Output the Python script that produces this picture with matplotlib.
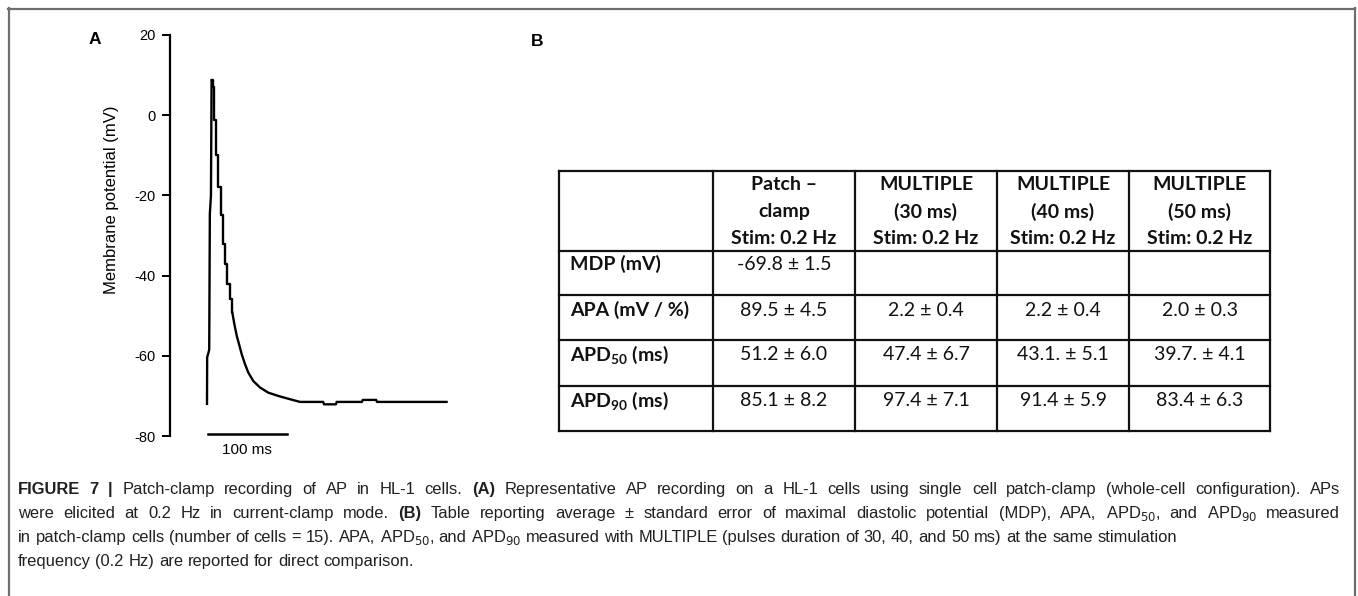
import matplotlib
matplotlib.use("Agg")
import matplotlib.pyplot as plt
from matplotlib.lines import Line2D

# ---------------- data ----------------
upstroke_time_ms = [0.0, 0.2, 2.8, 3.6, 5.0, 5.8]
upstroke_mv = [-72.0, -60.4, -58.5, -24.6, -20.0, 8.7]

# early repolarisation (sampled, drawn as steps)
decay_time_ms = [5.8, 7.0, 8.5, 11.5, 14.4, 17.8, 20.6, 22.8, 25.7, 29.1, 32.0]
decay_mv = [8.7, 7.0, -1.2, -10.0, -18.0, -25.0, -32.0, -37.1, -42.1, -45.8, -49.2]

# late repolarisation and resting potential
tail_time_ms = [32.0, 34.6, 37.6, 40.5, 43.9, 48.1, 52.3, 58.6, 67.0, 77.6, 90.0, 100.8,
                117.7, 147.0, 148.0, 163.0, 164.0, 196.0, 197.0, 214.0, 215.0, 303.0]
tail_mv = [-49.2, -52.1, -55.0, -57.1, -59.6, -62.1, -64.2, -66.3, -67.9, -69.2, -70.0, -70.6,
           -71.5, -71.5, -72.1, -72.1, -71.5, -71.5, -71.0, -71.0, -71.5, -71.5]

y_ticks = [-80, -60, -40, -20, 0, 20]
scale_bar_ms = 100

table_header = [["Patch \u2013", "clamp", "Stim: 0.2 Hz"],
                ["MULTIPLE", "(30 ms)", "Stim: 0.2 Hz"],
                ["MULTIPLE", "(40 ms)", "Stim: 0.2 Hz"],
                ["MULTIPLE", "(50 ms)", "Stim: 0.2 Hz"]]
row_labels = ["MDP (mV)", "APA (mV / %)", r"APD$_{\mathbf{50}}$ (ms)", r"APD$_{\mathbf{90}}$ (ms)"]
table_values = [["-69.8 \u00b1 1.5", "", "", ""],
                ["89.5 \u00b1 4.5", "2.2 \u00b1 0.4", "2.2 \u00b1 0.4", "2.0 \u00b1 0.3"],
                ["51.2 \u00b1 6.0", "47.4 \u00b1 6.7", "43.1. \u00b1 5.1", "39.7. \u00b1 4.1"],
                ["85.1 \u00b1 8.2", "97.4 \u00b1 7.1", "91.4 \u00b1 5.9", "83.4 \u00b1 6.3"]]

caption_lines = [
    [("FIGURE 7 |", True), ("Patch-clamp recording of AP in HL-1 cells.", False), ("(A)", True),
     ("Representative AP recording on a HL-1 cells using single cell patch-clamp (whole-cell configuration). APs", False)],
    [("were elicited at 0.2 Hz in current-clamp mode.", False), ("(B)", True),
     ("Table reporting average \u00b1 standard error of maximal diastolic potential (MDP), APA, APD$_{50}$, and APD$_{90}$ measured", False)],
    [("in patch-clamp cells (number of cells = 15). APA, APD$_{50}$, and APD$_{90}$ measured with MULTIPLE (pulses duration of 30, 40, and 50 ms) at the same stimulation", False)],
    [("frequency (0.2 Hz) are reported for direct comparison.", False)],
]
justify_line = [True, True, False, False]

# ---------------- style ----------------
W, H, DPI = 1358, 596, 100
plt.rcParams["mathtext.fontset"] = "custom"
plt.rcParams["mathtext.rm"] = "Liberation Sans Narrow"
plt.rcParams["mathtext.bf"] = "Lato:bold"
ARIAL = ["Liberation Sans", "DejaVu Sans"]
NARROW = ["Liberation Sans Narrow", "Liberation Sans", "DejaVu Sans"]
CAL = ["Lato", "DejaVu Sans"]
CAPC = "#231f20"
TBL = 14

fig = plt.figure(figsize=(W / DPI, H / DPI), dpi=DPI)
fig.patch.set_facecolor("white")


def fx(px):
    return px / W


def fy(py):
    return 1 - py / H


# outer frame
for xs, ys in [((8, 1355), (8.5, 8.5)), ((8.5, 8.5), (8, 600)), ((1355, 1355), (8, 600))]:
    fig.add_artist(Line2D([fx(v) for v in xs], [fy(v) for v in ys], color="#6e6e6e", lw=1.6,
                          transform=fig.transFigure))

# ---------------- panel A ----------------
axA = fig.add_axes([fx(170), fy(436), fx(460) - fx(170), fy(35) - fy(436)])
axA.plot(upstroke_time_ms, upstroke_mv, color="black", lw=1.7, solid_joinstyle="miter")
axA.plot(decay_time_ms, decay_mv, color="black", lw=1.7, drawstyle="steps-post")
axA.plot(tail_time_ms, tail_mv, color="black", lw=1.7)
axA.set_xlim(-46.8, 320)
axA.set_ylim(-80, 20)
for s in ["top", "right", "bottom"]:
    axA.spines[s].set_visible(False)
axA.spines["left"].set_linewidth(1.6)
axA.set_xticks([])
axA.set_yticks(y_ticks)
axA.set_yticklabels([str(v) for v in y_ticks], fontfamily=ARIAL, fontsize=10.5)
axA.tick_params(axis="y", direction="out", length=6, width=1.4, pad=4)
axA.set_ylabel("Membrane potential (mV)", fontfamily=ARIAL, fontsize=12)
axA.yaxis.set_label_coords(-0.176, 0.589)
axA.plot([1, 1 + scale_bar_ms], [-79.4, -79.4], color="black", lw=1.8, clip_on=False)
axA.text(1 + scale_bar_ms / 2, -83.6, f"{scale_bar_ms} ms", ha="center", va="center",
         fontfamily=ARIAL, fontsize=11)
fig.text(fx(95), fy(40), "A", fontfamily=ARIAL, fontweight="bold", fontsize=12.5,
         ha="center", va="center")
fig.text(fx(537), fy(41), "B", fontfamily=ARIAL, fontweight="bold", fontsize=12.5,
         ha="center", va="center")

# ---------------- panel B: table ----------------
col_edges = [559, 713, 855, 997, 1129, 1270]
row_edges = [171, 251, 295, 340, 386, 431]
axT = fig.add_axes([fx(559), fy(431), fx(1270) - fx(559), fy(171) - fy(431)])
axT.set_xlim(559, 1270)
axT.set_ylim(431, 171)
axT.axis("off")
for x in col_edges:
    axT.plot([x, x], [row_edges[0], row_edges[-1]], color="#111111", lw=1.6, clip_on=False,
             solid_capstyle="projecting")
for y in row_edges:
    axT.plot([col_edges[0], col_edges[-1]], [y, y], color="#111111", lw=1.6, clip_on=False,
             solid_capstyle="projecting")

header_line_y = [185, 211.5, 238]
for j, lines in enumerate(table_header):
    cx = (col_edges[j + 1] + col_edges[j + 2]) / 2
    for k, t in enumerate(lines):
        axT.text(cx, header_line_y[k], t, ha="center", va="center", fontfamily=CAL,
                 fontweight="bold", fontsize=TBL, color="#111111")
for i, lab in enumerate(row_labels):
    ty = row_edges[i + 1] + (13 if i == 0 else 15)
    axT.text(570, ty, lab, ha="left", va="center", fontfamily=CAL, fontweight="bold",
             fontsize=TBL, color="#111111")
    for j, val in enumerate(table_values[i]):
        if val:
            cx = (col_edges[j + 1] + col_edges[j + 2]) / 2
            axT.text(cx, ty, val, ha="center", va="center", fontfamily=CAL,
                     fontsize=TBL, color="#111111")

# ---------------- caption ----------------
renderer = fig.canvas.get_renderer()
CAP_SIZE = 11.9
x_left, x_right = 18, 1340
baselines = [494, 518, 542, 566]


def measure(s, bold):
    t = fig.text(0, 0, s, fontfamily=NARROW, fontsize=CAP_SIZE,
                 fontweight="bold" if bold else "normal")
    w = t.get_window_extent(renderer).width
    t.remove()
    return w


space_w = measure("a a", False) - measure("aa", False)

for li, runs in enumerate(caption_lines):
    tokens = []
    for s, b in runs:
        for word in s.split(" "):
            if word:
                tokens.append((word, b))
    widths = [measure(w, b) for w, b in tokens]
    gap = space_w
    if justify_line[li]:
        gap = max(space_w, (x_right - x_left - sum(widths)) / (len(tokens) - 1))
    x = x_left
    for (w, b), wd in zip(tokens, widths):
        fig.text(fx(x), fy(baselines[li]), w, fontfamily=NARROW, fontsize=CAP_SIZE,
                 fontweight="bold" if b else "normal", color=CAPC, ha="left",
                 va="baseline")
        x += wd + gap

fig.savefig("out.png", dpi=DPI)
